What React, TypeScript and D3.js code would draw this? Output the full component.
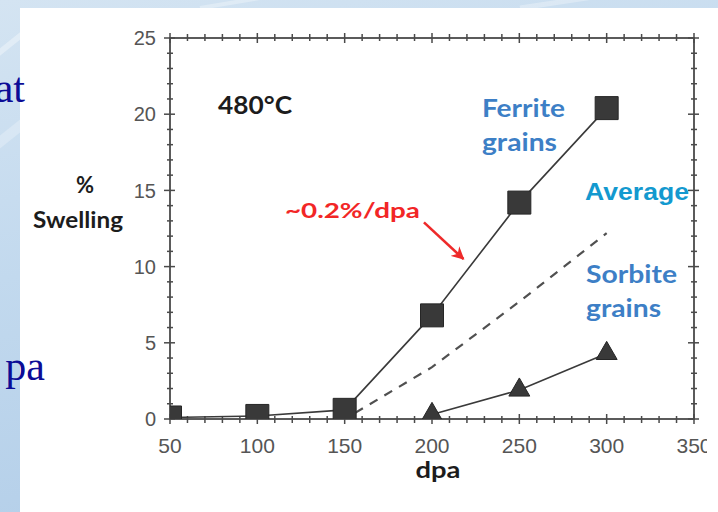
import { useEffect, useRef } from "react"
import * as d3 from "d3"

// axis ticks
const xTicks = [50, 100, 150, 200, 250, 300, 350]
const yTicks = [0, 5, 10, 15, 20, 25]

// Ferrite grains (squares)
const ferriteDpa = [50, 100, 150, 200, 250, 300]
const ferriteSwelling = [0.1, 0.2, 0.6, 6.8, 14.2, 20.4]

// Average (dashed)
const averageDpa = [156, 200, 250, 300]
const averageSwelling = [0.4, 3.4, 7.7, 12.2]

// Sorbite grains (triangles)
const sorbiteDpa = [200, 250, 300]
const sorbiteSwelling = [0.3, 1.9, 4.3]

const W = 718
const H = 512
const SANS = "Lato, 'Open Sans', sans-serif"

export default function App() {
    const ref = useRef<SVGSVGElement>(null)

    useEffect(() => {
        const svg = d3.select(ref.current)
        svg.selectAll('*').remove()
        buildGraph(svg)
    }, [])

    function buildGraph(svg: any, {
        left = 170,
        right = 694,
        top = 38,
        bottom = 419,
    } = {}) {
        const x = d3.scaleLinear().domain([50, 350]).range([left, right])
        const y = d3.scaleLinear().domain([0, 25]).range([bottom, top])

        const defs = svg.append('defs')
        const grad = defs.append('linearGradient')
            .attr('id', 'bg').attr('x1', 0).attr('y1', 0).attr('x2', 0.3).attr('y2', 1)
        grad.append('stop').attr('offset', 0).attr('stop-color', '#d4e4f2')
        grad.append('stop').attr('offset', 0.5).attr('stop-color', '#c2d9ee')
        grad.append('stop').attr('offset', 1).attr('stop-color', '#b4cfe9')
        defs.append('clipPath').attr('id', 'plotClip')
            .append('rect')
                .attr('x', x(50)).attr('y', y(25))
                .attr('width', x(350) - x(50)).attr('height', y(0) - y(25))
        defs.append('clipPath').attr('id', 'chartClip')
            .append('rect').attr('x', 0).attr('y', 0).attr('width', 707).attr('height', H)
        const arrowHead = defs.append('marker')
            .attr('id', 'arrow').attr('viewBox', '0 0 10 10')
            .attr('refX', 9).attr('refY', 5)
            .attr('markerWidth', 5).attr('markerHeight', 5)
            .attr('orient', 'auto')
        arrowHead.append('path').attr('d', 'M0,0 L10,5 L0,10 L3,5 Z').attr('fill', '#ee2a2a')

        // slide background + white panel
        svg.append('rect').attr('width', W).attr('height', H).attr('fill', 'url(#bg)')
        const streaks = svg.append('g').attr('stroke', '#ffffff').attr('fill', 'none')
        streaks.append('path').attr('d', 'M-10,60 L40,20').attr('stroke-width', 6).attr('opacity', 0.35)
        streaks.append('path').attr('d', 'M-10,150 L40,110').attr('stroke-width', 10).attr('opacity', 0.25)
        streaks.append('path').attr('d', 'M200,8 L260,-2').attr('stroke-width', 4).attr('opacity', 0.3)
        streaks.append('path').attr('d', 'M520,8 L600,-4').attr('stroke-width', 5).attr('opacity', 0.3)
        svg.append('rect').attr('x', 20).attr('y', 8).attr('width', W - 20).attr('height', H - 8).attr('fill', '#ffffff')

        // slide text cut off on the left
        const slide = svg.append('g')
            .attr('font-family', "'Liberation Serif', 'Times New Roman', serif")
            .attr('font-size', 42).attr('fill', '#0c0c96').attr('text-anchor', 'end')
        slide.append('text').attr('x', 25).attr('y', 102).text('at')
        slide.append('text').attr('x', 45).attr('y', 380).text('pa')

        const chart = svg.append('g').attr('clip-path', 'url(#chartClip)')

        // frame
        chart.append('rect')
            .attr('x', x(50)).attr('y', y(25))
            .attr('width', x(350) - x(50)).attr('height', y(0) - y(25))
            .attr('fill', 'none').attr('stroke', '#4a4a4a').attr('stroke-width', 1.8)

        // ticks
        const minorX = d3.range(60, 350, 10).filter(v => v % 50 !== 0)
        const minorY = d3.range(1, 25, 1).filter(v => v % 5 !== 0)
        const ticks = chart.append('g').attr('stroke', '#4a4a4a').attr('stroke-width', 1.5)
        for (const [yy, sgn] of [[y(0), 1], [y(25), -1]]) {
            ticks.append('g').selectAll('line')
                .data(xTicks).join('line')
                    .attr('x1', d => x(d)).attr('x2', d => x(d))
                    .attr('y1', yy - 5 * sgn).attr('y2', yy + 5 * sgn)
            ticks.append('g').selectAll('line')
                .data(minorX).join('line')
                    .attr('x1', d => x(d)).attr('x2', d => x(d))
                    .attr('y1', yy - 3 * sgn).attr('y2', yy + 4 * sgn)
        }
        for (const xx of [x(50), x(350)]) {
            ticks.append('g').selectAll('line')
                .data(yTicks).join('line')
                    .attr('y1', d => y(d)).attr('y2', d => y(d))
                    .attr('x1', xx - 6).attr('x2', xx + 5)
            ticks.append('g').selectAll('line')
                .data(minorY).join('line')
                    .attr('y1', d => y(d)).attr('y2', d => y(d))
                    .attr('x1', xx - 3).attr('x2', xx + 3)
        }

        // tick labels
        chart.append('g')
                .attr('font-family', "'Liberation Sans', Arial, sans-serif")
                .attr('font-size', 21).attr('fill', '#555555').attr('text-anchor', 'middle')
            .selectAll('text')
            .data(xTicks).join('text')
                .attr('x', d => x(d)).attr('y', y(0) + 34)
                .text(d => d)
        chart.append('g')
                .attr('font-family', "'Liberation Sans', Arial, sans-serif")
                .attr('font-size', 20).attr('fill', '#555555').attr('text-anchor', 'end')
            .selectAll('text')
            .data(yTicks).join('text')
                .attr('x', x(50) - 14).attr('y', d => y(d))
                .attr('dy', '0.36em')
                .text(d => d)

        // series lines
        const line = d3.line<[number, number]>().x(d => x(d[0])).y(d => y(d[1]))
        const plot = chart.append('g').attr('clip-path', 'url(#plotClip)')
        plot.append('path')
            .attr('d', line(d3.zip(averageDpa, averageSwelling) as [number, number][]))
            .attr('fill', 'none').attr('stroke', '#505050').attr('stroke-width', 2.2)
            .attr('stroke-dasharray', '9,8')
        plot.append('path')
            .attr('d', line(d3.zip(ferriteDpa, ferriteSwelling) as [number, number][]))
            .attr('fill', 'none').attr('stroke', '#3a3a3a').attr('stroke-width', 1.6)
        plot.append('path')
            .attr('d', line(d3.zip(sorbiteDpa.slice(0), sorbiteSwelling) as [number, number][]))
            .attr('fill', 'none').attr('stroke', '#3a3a3a').attr('stroke-width', 1.6)

        // markers
        plot.append('g').selectAll('path')
            .data(d3.zip(ferriteDpa, ferriteSwelling)).join('path')
                .attr('transform', d => `translate(${x(d[0])},${y(d[1])})`)
                .attr('d', d3.symbol(d3.symbolSquare, 23 * 23)())
                .attr('fill', '#393939').attr('stroke', '#262626').attr('stroke-width', 1)
        plot.append('g').selectAll('path')
            .data(d3.zip(sorbiteDpa, sorbiteSwelling)).join('path')
                .attr('transform', d => `translate(${x(d[0])},${y(d[1])})`)
                .attr('d', d3.symbol(d3.symbolTriangle, 190)())
                .attr('fill', '#393939').attr('stroke', '#262626').attr('stroke-width', 1)

        // annotations
        const note = (t: string, dpa: number, sw: number, size: number, len: number, color: string, family = SANS) =>
            chart.append('text')
                .attr('x', x(dpa)).attr('y', y(sw))
                .attr('font-family', family).attr('font-weight', 'bold')
                .attr('font-size', size).attr('fill', color)
                .attr('textLength', len).attr('lengthAdjust', 'spacingAndGlyphs')
                .text(t)
        note('480°C', 77.5, 20, 24, 74, '#1c1c1c')
        note('Ferrite', 228.6, 19.8, 25, 83, '#3d7fc6')
        note('grains', 228.6, 17.6, 25, 75, '#3d7fc6')
        note('Average', 287.6, 14.4, 23, 104, '#1399cf', "'Liberation Sans', Arial, sans-serif")
        note('Sorbite', 288.2, 8.9, 25, 91, '#3d7fc6')
        note('grains', 288.2, 6.7, 25, 75, '#3d7fc6')
        note('~0.2%/dpa', 115.8, 13.2, 21, 135, '#f22626')

        chart.append('line')
            .attr('x1', x(195.4)).attr('y1', y(12.9))
            .attr('x2', x(218)).attr('y2', y(10.5))
            .attr('stroke', '#ee2a2a').attr('stroke-width', 2.6)
            .attr('marker-end', 'url(#arrow)')

        // axis titles
        const titles = svg.append('g')
            .attr('font-family', SANS).attr('font-weight', 'bold')
            .attr('fill', '#1c1c1c').attr('text-anchor', 'middle')
        titles.append('text').attr('x', 85).attr('y', 193).attr('font-size', 22).text('%')
        titles.append('text').attr('x', 78).attr('y', 228).attr('font-size', 22)
            .attr('textLength', 90).attr('lengthAdjust', 'spacingAndGlyphs').text('Swelling')
        titles.append('text').attr('x', 438).attr('y', 478).attr('font-size', 23)
            .attr('textLength', 45).attr('lengthAdjust', 'spacingAndGlyphs').text('dpa')
    }

    return (
        <svg ref={ref} width={W} height={H} viewBox={`0 0 ${W} ${H}`}
            style={{ position: 'absolute', left: 0, top: 0, display: 'block' }} />
    )
}
